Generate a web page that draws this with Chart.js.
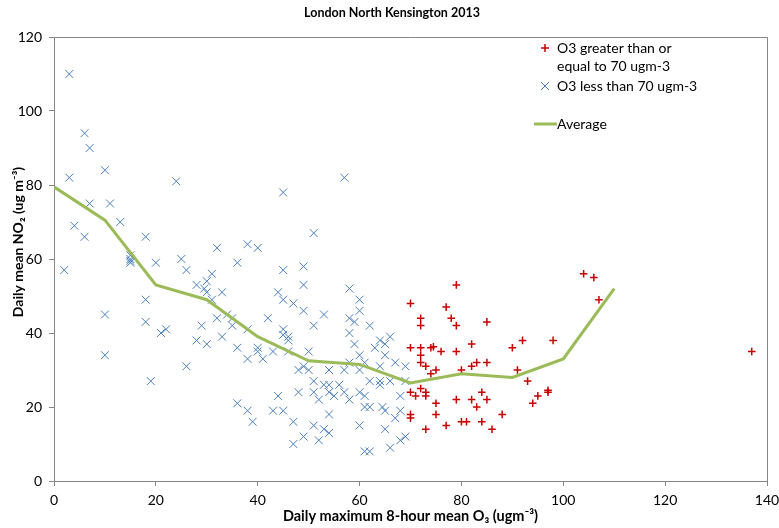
<!DOCTYPE html>
<html lang="en">
<head>
    <meta charset="UTF-8">
    <title>London North Kensington 2013</title>
    <script src="https://cdn.jsdelivr.net/npm/chart.js"></script>
    <style>
        body {
            margin: 0;
            padding: 0;
            background-color: #fff;
        }

        .wrap {
            width: 779px;
            height: 528px;
        }
    </style>
</head>
<body>
    <div class="wrap">
        <canvas id="myChart" width="779" height="528"></canvas>
    </div>

    <script>
        // O3 >= 70 ugm-3  [O3, NO2]
        var highO3 = [
            [70, 48], [77, 47], [79, 53], [72, 44], [78, 44], [72, 42], [79, 42], [85, 43],
            [70, 36], [72, 36], [74, 36], [74.5, 36.3], [76, 35], [79, 35], [82, 37], [90, 36],
            [92, 38], [98, 38], [72, 34], [72, 32], [73, 31], [75, 30], [74, 29], [80, 30],
            [82, 31], [83, 32], [85, 32], [91, 30], [93, 27], [72, 25], [70, 24], [71, 23],
            [73, 24], [73, 23], [79, 22], [82, 22], [84, 24], [85, 22], [83, 20], [75, 21],
            [95, 23], [97, 24], [97, 24.5], [94, 21], [70, 18], [70, 17], [75, 18], [88, 18],
            [77, 15], [80, 16], [81, 16], [84, 16], [73, 14], [86, 14],
            [104, 56], [106, 55], [107, 49], [137, 35]
        ];

        // O3 < 70 ugm-3  [O3, NO2]
        var lowO3 = [
            [3, 110], [6, 94], [7, 90], [10, 84], [3, 82], [24, 81], [7, 75], [11, 75],
            [4, 69], [13, 70], [6, 66], [18, 66], [15, 61], [15, 60], [15, 59.5], [15, 59],
            [2, 57], [20, 59], [25, 60], [26, 57], [32, 63], [31, 56], [30, 54], [28, 53],
            [29.5, 52], [30, 51], [33, 51], [31, 49], [18, 49], [10, 45], [18, 43], [22, 41],
            [21, 40], [29, 42], [32, 44], [34, 45], [35, 44], [35, 42], [38, 41], [33, 39],
            [28, 38], [30, 37], [10, 34], [26, 31], [19, 27],
            [57, 82], [45, 78], [51, 67], [38, 64], [40, 63], [36, 59], [45, 57], [49, 58],
            [49, 53], [44, 51], [45, 49], [47, 48], [49, 46], [53, 45], [58, 52], [60, 49],
            [60, 46], [58, 44], [59, 43], [62, 42], [51, 42], [42, 44],
            [45, 41], [45, 39.5], [46, 39], [46, 38], [58, 40], [59, 37], [36, 36], [40, 36],
            [40, 35], [38, 33], [41, 33], [43, 35], [46, 35], [50, 35], [48, 30], [49, 31],
            [50, 30], [54, 30], [57, 30], [58, 32], [60, 34], [61, 32], [60, 30], [63, 36],
            [64, 38], [65, 37], [66, 39], [65, 34], [64, 31], [67, 32], [51, 27], [53, 26],
            [54, 26], [56, 26], [51, 24], [48, 24], [52, 22], [54, 24], [55, 23], [57, 24],
            [58, 22], [60, 24], [61, 23], [62, 27], [64, 27], [64, 26], [66, 27], [68, 23],
            [44, 23], [36, 21], [38, 19], [39, 16], [43, 19], [45, 19], [47, 16], [54, 18],
            [51, 15], [53, 14], [54, 13], [49, 12], [52, 11], [47, 10], [60, 15], [61, 20],
            [62, 20], [64.5, 20], [65, 19], [67, 17], [65, 14], [68, 11], [66, 9], [61, 8],
            [62, 8], [69, 31], [69, 27], [68, 19], [69, 12]
        ];

        // average NO2 per 10 ugm-3 O3 band
        var avgO3 = [0, 10, 20, 30, 40, 50, 60, 70, 80, 90, 100, 110];
        var avgNO2 = [79.5, 70.5, 53, 49, 39, 32.5, 31.5, 26.5, 29, 28, 33, 52];

        var xTicks = [0, 20, 40, 60, 80, 100, 120, 140];
        var yTicks = [0, 20, 40, 60, 80, 100, 120];

        var RED = '#C80000';
        var BLUE = '#4A7EBB';
        var GREEN = '#9BBB59';
        var AXIS = '#868686';
        var FONT = 'Lato, "Open Sans", sans-serif';

        function toPoints(list) {
            return list.map(function (p) { return { x: p[0], y: p[1] }; });
        }

        // chart title, y title, border round the plot area + legend inside it
        var plotExtras = {
            id: 'plotExtras',
            afterDraw: function (chart) {
                var ctx = chart.ctx;
                var a = chart.chartArea;
                ctx.save();
                ctx.strokeStyle = AXIS;
                ctx.lineWidth = 1;
                ctx.beginPath();
                ctx.moveTo(a.left, a.top + 0.5);
                ctx.lineTo(a.right + 0.5, a.top + 0.5);
                ctx.lineTo(a.right + 0.5, a.bottom);
                ctx.stroke();

                ctx.fillStyle = '#000';
                ctx.textBaseline = 'middle';

                ctx.font = 'bold 12.5px ' + FONT;
                ctx.textAlign = 'center';
                ctx.fillText('London North Kensington 2013', 392, 13);

                ctx.save();
                ctx.translate(18, 242);
                ctx.rotate(-Math.PI / 2);
                ctx.font = 'bold 14px ' + FONT;
                ctx.fillText('Daily mean NO\u2082 (ug m\u207B\u00B3)', 0, 0);
                ctx.restore();

                ctx.font = '14px ' + FONT;
                ctx.textAlign = 'left';

                // red plus
                ctx.strokeStyle = RED;
                ctx.lineWidth = 1.5;
                ctx.beginPath();
                ctx.moveTo(541, 48); ctx.lineTo(549, 48);
                ctx.moveTo(545, 44); ctx.lineTo(545, 52);
                ctx.stroke();
                ctx.fillText('O3 greater than or', 557, 48);
                ctx.fillText('equal to 70 ugm-3', 557, 66);

                // blue cross
                ctx.strokeStyle = BLUE;
                ctx.lineWidth = 1;
                ctx.beginPath();
                ctx.moveTo(541, 82); ctx.lineTo(549, 90);
                ctx.moveTo(549, 82); ctx.lineTo(541, 90);
                ctx.stroke();
                ctx.fillText('O3 less than 70 ugm-3', 557, 86);

                // average line
                ctx.strokeStyle = GREEN;
                ctx.lineWidth = 3;
                ctx.beginPath();
                ctx.moveTo(534, 124); ctx.lineTo(557, 124);
                ctx.stroke();
                ctx.fillText('Average', 557, 124);
                ctx.restore();
            }
        };

        var ctx = document.getElementById('myChart').getContext('2d');

        var myChart = new Chart(ctx, {
            data: {
                datasets: [{
                    type: 'scatter',
                    label: 'O3 greater than or equal to 70 ugm-3',
                    data: toPoints(highO3),
                    pointStyle: 'cross',
                    pointRadius: 3.8,
                    pointBorderWidth: 1.5,
                    borderColor: RED,
                    backgroundColor: RED,
                    order: 2
                }, {
                    type: 'scatter',
                    label: 'O3 less than 70 ugm-3',
                    data: toPoints(lowO3),
                    pointStyle: 'crossRot',
                    pointRadius: 5.6,
                    pointBorderWidth: 1,
                    borderColor: BLUE,
                    backgroundColor: BLUE,
                    order: 3
                }, {
                    type: 'line',
                    label: 'Average',
                    data: avgO3.map(function (x, i) { return { x: x, y: avgNO2[i] }; }),
                    borderColor: GREEN,
                    borderWidth: 3,
                    pointRadius: 0,
                    tension: 0,
                    fill: false,
                    order: 1
                }]
            },
            options: {
                responsive: false,
                animation: false,
                layout: {
                    padding: { left: 0, right: 12, top: 37, bottom: 0 }
                },
                plugins: {
                    legend: { display: false },
                    tooltip: { enabled: false },
                    title: { display: false }
                },
                scales: {
                    x: {
                        type: 'linear',
                        min: 0,
                        max: 140,
                        afterBuildTicks: function (scale) {
                            scale.ticks = xTicks.map(function (v) { return { value: v }; });
                        },
                        afterFit: function (scale) {
                            scale.height = 47;
                            scale.paddingLeft = 0;
                            scale.paddingRight = 0;
                        },
                        grid: {
                            drawOnChartArea: false,
                            drawTicks: true,
                            tickLength: 5,
                            color: AXIS
                        },
                        border: { color: AXIS, width: 1 },
                        ticks: {
                            color: '#000',
                            padding: 6,
                            maxRotation: 0,
                            font: { family: FONT, size: 14 }
                        },
                        title: {
                            display: true,
                            text: 'Daily maximum 8-hour mean O\u2083 (ugm\u207B\u00B3)',
                            color: '#000',
                            font: { family: FONT, size: 14.5, weight: 'bold' },
                            padding: { top: 0, bottom: 3 }
                        }
                    },
                    y: {
                        type: 'linear',
                        min: 0,
                        max: 120,
                        afterBuildTicks: function (scale) {
                            scale.ticks = yTicks.map(function (v) { return { value: v }; });
                        },
                        afterFit: function (scale) {
                            scale.width = 54;
                            scale.paddingTop = 0;
                            scale.paddingBottom = 0;
                        },
                        grid: {
                            drawOnChartArea: false,
                            drawTicks: true,
                            tickLength: 5,
                            color: AXIS
                        },
                        border: { color: AXIS, width: 1 },
                        ticks: {
                            color: '#000',
                            padding: 7,
                            font: { family: FONT, size: 14 }
                        }
                    }
                }
            },
            plugins: [plotExtras]
        });
    </script>
</body>
</html>
